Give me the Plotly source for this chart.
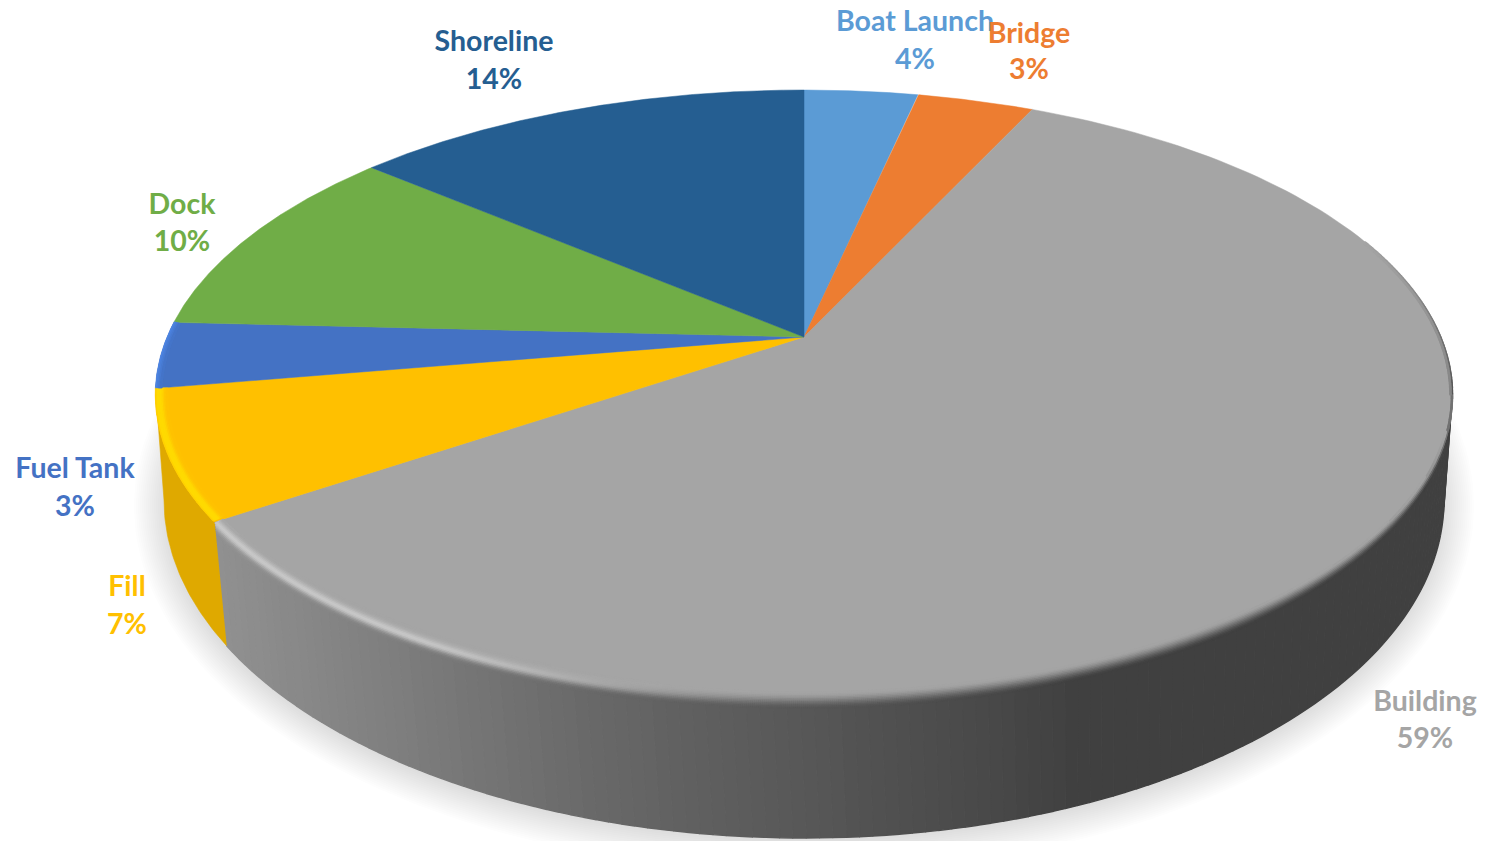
import numpy as np
import plotly.graph_objects as go

# ---- data ----
categories = ["Boat Launch", "Bridge", "Building", "Fill", "Fuel Tank", "Dock", "Shoreline"]
values = [3.4, 3.5, 58.6, 6.8, 3.5, 10.4, 13.8]
percent_labels = ["4%", "3%", "59%", "7%", "3%", "10%", "14%"]

# ---- styles ----
colors = ["#5B9BD5", "#ED7D31", "#A5A5A5", "#FFC000", "#4472C4", "#70AD47", "#255E91"]
label_xy = {"Boat Launch": (915, 24, 61.5), "Bridge": (1029, 36, 72), "Building": (1425, 704, 741),
            "Fill": (127, 589, 627), "Fuel Tank": (75, 471, 509), "Dock": (182, 207, 244),
            "Shoreline": (494, 44, 82)}
FONT = "Lato, Carlito, sans-serif"
FONT_SIZE = 28.5

# ---- projection geometry (pixels) ----
X0, APEX_Y, R, A, C = 804.0, 337.0, 637.0, 229.9, 0.19
TOP = dict(cy=395.0, rx=648.0, ry=305.0)
BOT = dict(cy=500.0, rx=640.0, ry=338.0)


def disc(theta):
    """clockwise angle from 12 o'clock on the disc -> screen position"""
    u, v = np.sin(theta), np.cos(theta)
    d = C * v + 1
    return X0 + R * u / d, (APEX_Y - A * v) / d


def rim(t, e, s=0.0):
    return X0 + (e["rx"] - s) * np.cos(t), e["cy"] + (e["ry"] - s) * np.sin(t)


def theta_to_t(theta):
    x, y = disc(theta)
    return np.arctan2((y - TOP["cy"]) / TOP["ry"], (x - X0) / TOP["rx"])


def wall_gray(x):
    return np.interp(x, [228, 400, 600, 800, 1000, 1080, 1450], [0x90, 0x7E, 0x68, 0x58, 0x48, 0x40, 0x40])


def smooth(a):
    a = np.clip(a, 0, 1)
    return a * a * (3 - 2 * a)


fig = go.Figure()

# soft shadow
for k in range(20):
    g = k * 2.0
    t = np.linspace(0, 2 * np.pi, 240)
    fig.add_trace(go.Scatter(x=X0 + (BOT["rx"] + 30 - g) * np.cos(t), y=BOT["cy"] + 6 + (BOT["ry"] + 28 - g) * np.sin(t),
                             mode="lines", fill="toself", line=dict(width=0), fillcolor="rgba(90,90,90,0.013)"))

cum = np.cumsum([0] + values) / sum(values) * 2 * np.pi
idx = {c: i for i, c in enumerate(categories)}
t_b = theta_to_t(cum[idx["Building"] + 1]) % (2 * np.pi)
t_f = np.pi
SKEW = 0.9935  # the wall's seams lean slightly toward the centre

# wall: building strips (shaded with x) and fill strip
edges = np.linspace(0, t_b, 130)
for a, b in zip(edges[:-1], edges[1:]):
    ts = np.array([a, b])
    xt, yt = rim(ts, TOP)
    xb, yb = rim(ts[::-1] * SKEW, BOT)
    g = int(wall_gray((xt.mean() + xb.mean()) / 2))
    col = f"rgb({g},{g},{g})"
    fig.add_trace(go.Scatter(x=np.r_[xt, xb], y=np.r_[yt, yb], mode="lines", fill="toself", fillcolor=col,
                             line=dict(width=1.4, color=col)))
ts = np.linspace(t_b, t_f, 40)
xt, yt = rim(ts, TOP)
xb, yb = rim(ts[::-1] * np.linspace(1.0, SKEW, 40), BOT)
fig.add_trace(go.Scatter(x=np.r_[xt, xb], y=np.r_[yt, yb], mode="lines", fill="toself", fillcolor="#DFA900",
                         line=dict(width=0.6, color="#DFA900")))

# top face wedges
for i, c in enumerate(categories):
    th = np.linspace(cum[i], cum[i + 1], 160)
    x, y = disc(th)
    fig.add_trace(go.Scatter(x=np.r_[X0, x, X0], y=np.r_[APEX_Y, y, APEX_Y], mode="lines", fill="toself",
                             fillcolor=colors[i], line=dict(width=0.5, color=colors[i]), name=c))

# bevel bands drawn as dense dots
bx, by, bc = [], [], []
deg = np.pi / 180


def put(x, y, rgb):
    bx.append(x); by.append(y)
    bc.append("rgb(%d,%d,%d)" % tuple(int(np.clip(v, 0, 255)) for v in rgb))


t_end = theta_to_t(cum[idx["Fill"] + 1]) % (2 * np.pi)
for s in np.arange(0.5, 11.01, 1.5):
    for t in np.arange(t_b + 0.006, t_end, 0.0030):
        x, y = rim(t, TOP, s)
        k = np.clip(1.25 * np.exp(-(((s - 4.0) / 4.4) ** 2)), 0, 1)
        put(x, y, (255, 192 + (218 - 192) * k, 0))
for s in np.arange(-9, 12.01, 1.5):
    for t in np.arange(-30 * deg, t_b - 0.004 - 0.004 * max(0, -s), 0.0030):
        x, y = rim(t, TOP, s)
        if t < 0:
            if s < 0 or s > 2.5:
                continue
            k = np.clip(1 + t / (30 * deg), 0, 1)
            f = np.clip(1 - s / 2.5, 0, 1) * k
            g = 165 + (85 - 165) * f
        else:
            hl = smooth((t / deg - 90) / 40)
            w = 0.3 + 7.7 * min(1.0, np.sin(t) * 1.3)
            f = smooth((w - s) / (2 * w))
            if abs(s) > w + 4 * hl:
                continue
            g = 165 + (wall_gray(x) - 165) * f
            g += 0.85 * hl * (208 - g) * np.exp(-(((s - 1.0) / 4.6) ** 2))
        put(x, y, (g, g, g))
t_end2 = theta_to_t(cum[idx["Fuel Tank"] + 1]) % (2 * np.pi)
for s in np.arange(0.5, 6.01, 1.5):
    for t in np.arange(t_end + 0.004, t_end2, 0.0030):
        x, y = rim(t, TOP, s)
        k = np.clip(1 - s / 6, 0, 1)
        put(x, y, (0x44 + 10 * k, 0x72 + 20 * k, 0xC4 + 32 * k))
fig.add_trace(go.Scatter(x=bx, y=by, mode="markers", marker=dict(size=2.6, color=bc, line=dict(width=0))))

# labels
lx, ly, lt, lc = [], [], [], []
for i, c in enumerate(categories):
    x, y1, y2 = label_xy[c]
    lx += [x, x]; ly += [y1, y2]; lt += [c, percent_labels[i]]; lc += [colors[i], colors[i]]
fig.add_trace(go.Scatter(x=lx, y=ly, mode="text", text=lt, textposition="middle center",
                         textfont=dict(family=FONT, size=FONT_SIZE, color=lc, weight="bold")))

fig.update_layout(width=1485, height=841, margin=dict(l=0, r=0, t=0, b=0), showlegend=False,
                  paper_bgcolor="white", plot_bgcolor="white", hovermode=False,
                  xaxis=dict(range=[0, 1485], visible=False, fixedrange=True),
                  yaxis=dict(range=[841, 0], visible=False, fixedrange=True))
fig.write_html("out.html", config=dict(displayModeBar=False),
               post_script="document.body.style.margin='0';document.body.style.overflow='hidden';")
